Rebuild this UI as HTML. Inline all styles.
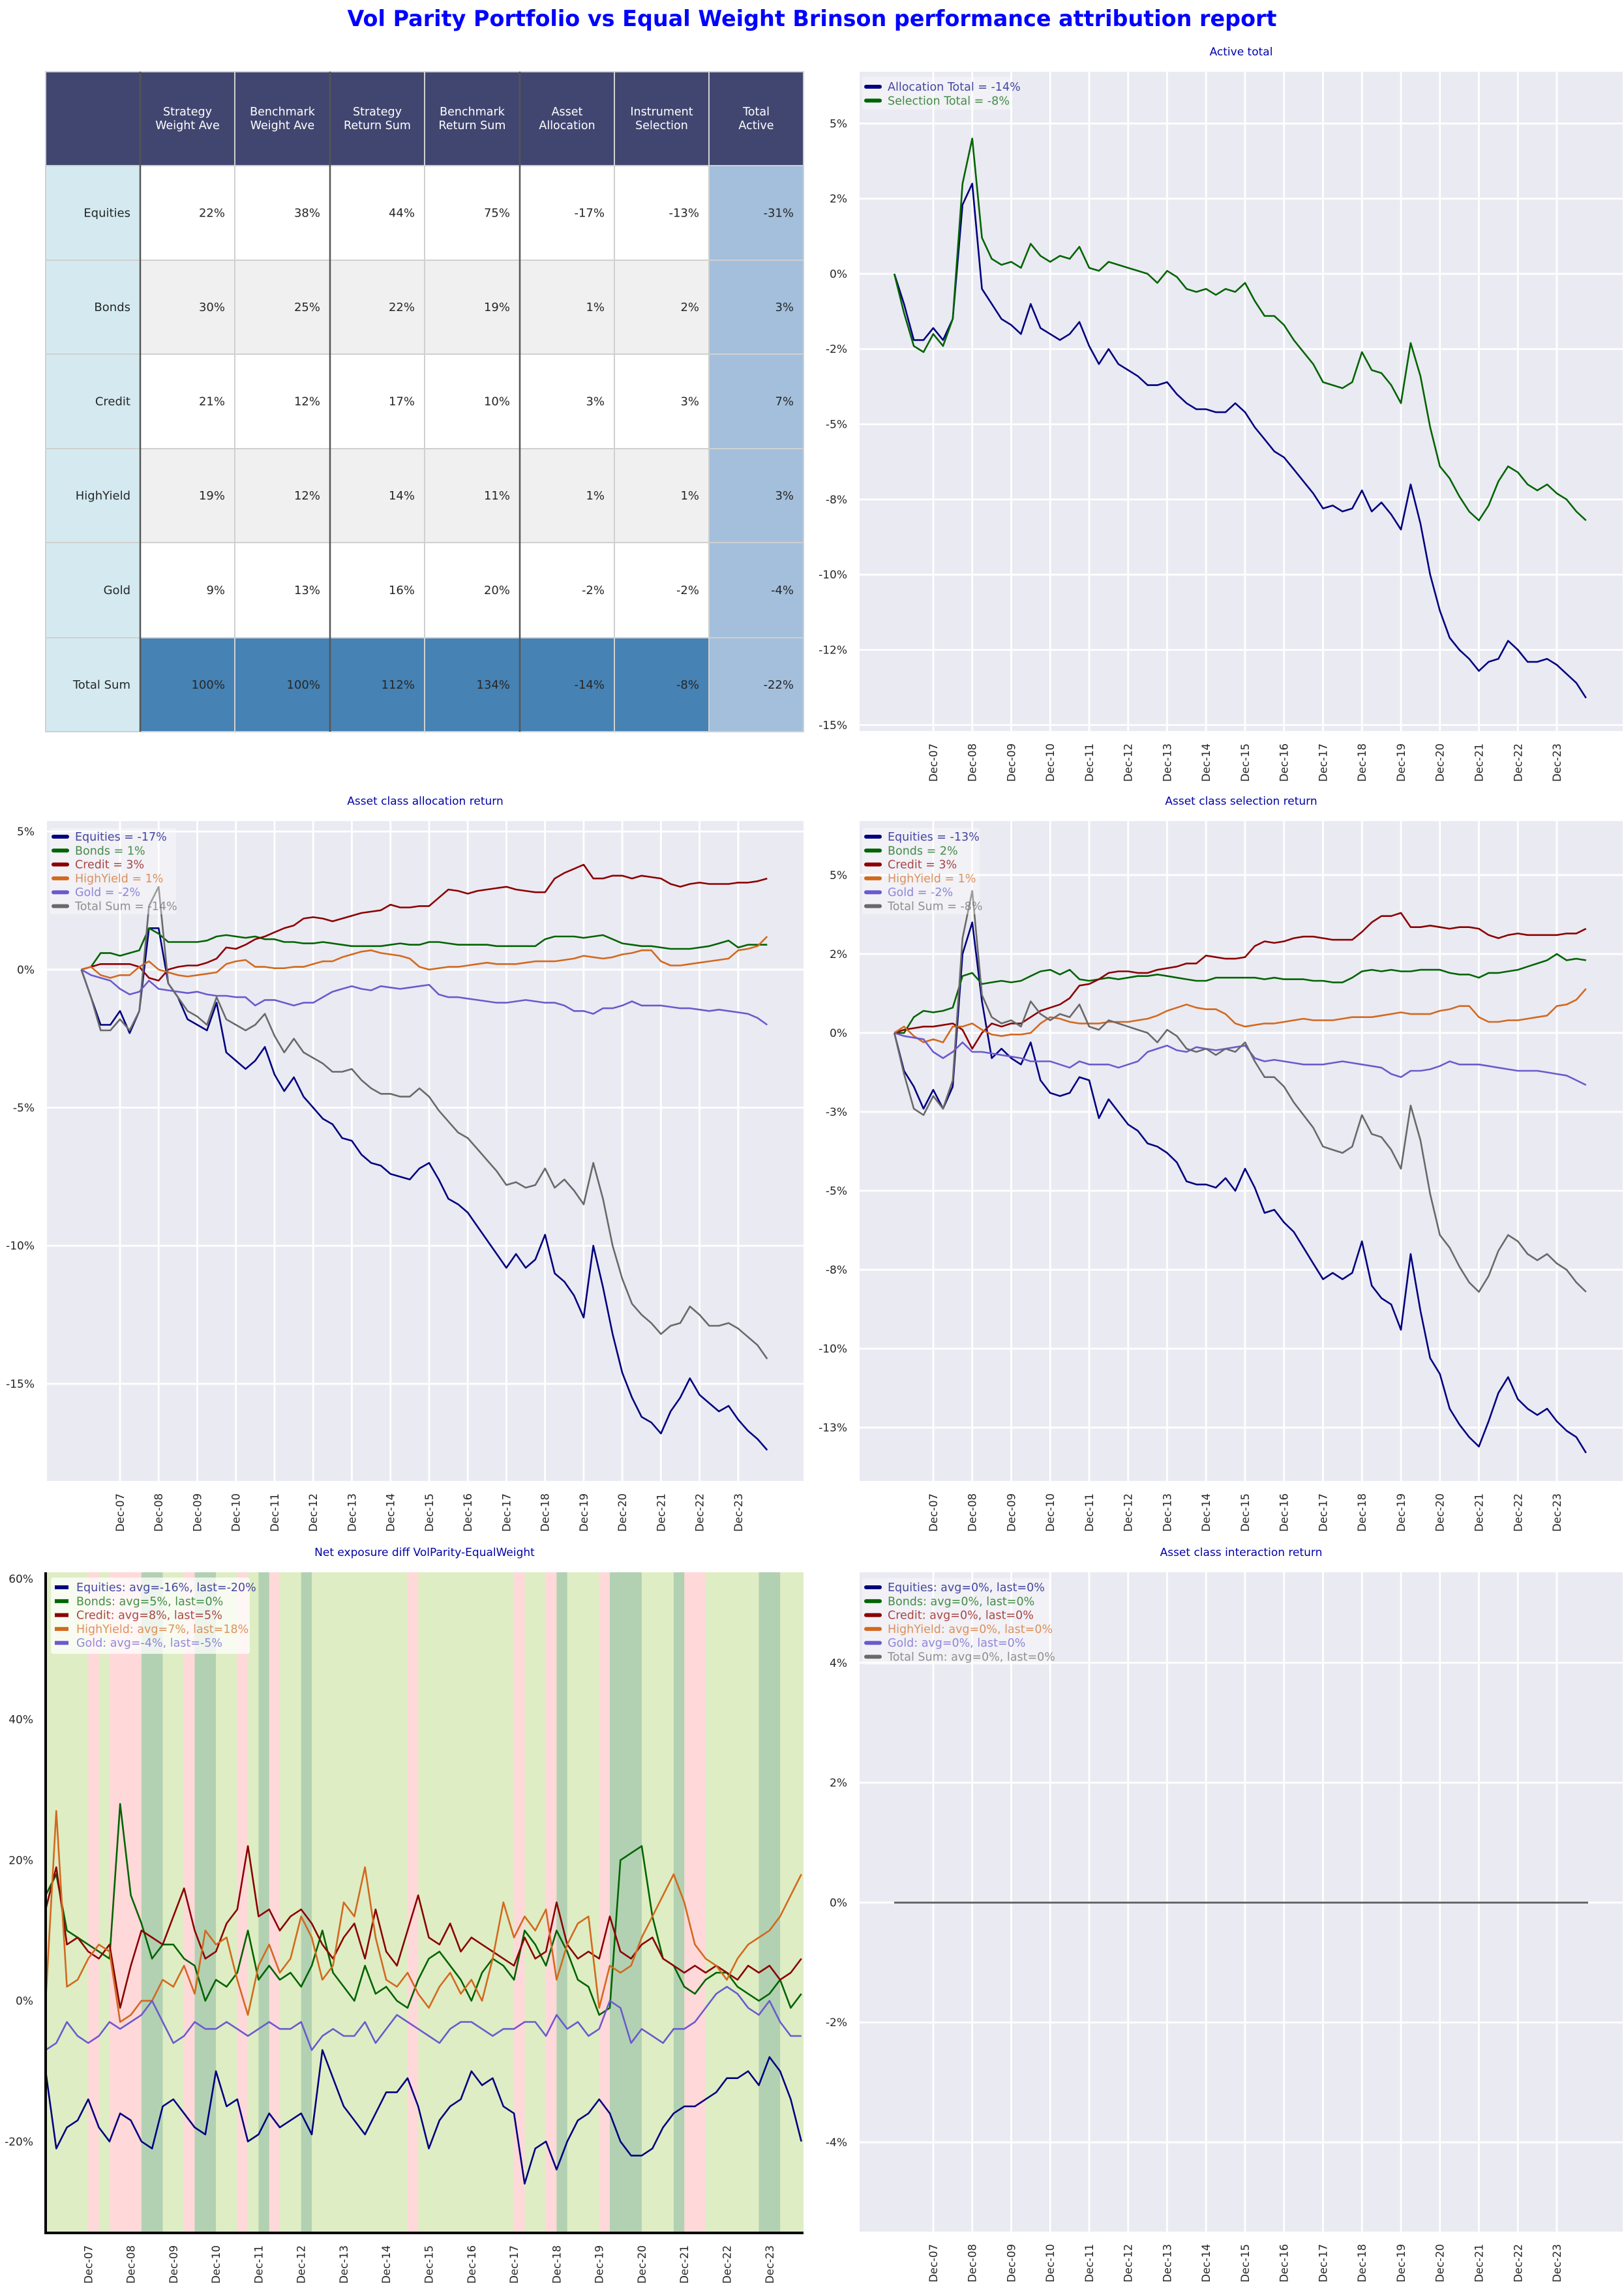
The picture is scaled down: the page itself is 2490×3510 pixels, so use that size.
<!DOCTYPE html>
<html><head><meta charset="utf-8"><title>Brinson attribution report</title>
<style>
html,body{margin:0;padding:0;background:#fff;}
svg{display:block;font-family:"DejaVu Sans","Liberation Sans",sans-serif;}
</style></head>
<body>
<svg id="root" width="2490" height="3510" viewBox="0 0 2490 3510" xmlns="http://www.w3.org/2000/svg">
<text x="1245" y="40" text-anchor="middle" font-size="34" font-weight="bold" fill="#0000ff" textLength="1425" lengthAdjust="spacingAndGlyphs">Vol Parity Portfolio vs Equal Weight Brinson performance attribution report</text>
<g id="tbl"></g>
<g id="c1"></g>
<g id="c2"></g>
<g id="c3"></g>
<g id="c4"></g>
<g id="c5"></g>
</svg>
<script>
// ---------- table data ----------
const tableHeaders = [["",""],["Strategy","Weight Ave"],["Benchmark","Weight Ave"],["Strategy","Return Sum"],["Benchmark","Return Sum"],["Asset","Allocation"],["Instrument","Selection"],["Total","Active"]];
const tableRows = ["Equities","Bonds","Credit","HighYield","Gold","Total Sum"];
const tableValues = [
 ["22%","38%","44%","75%","-17%","-13%","-31%"],
 ["30%","25%","22%","19%","1%","2%","3%"],
 ["21%","12%","17%","10%","3%","3%","7%"],
 ["19%","12%","14%","11%","1%","1%","3%"],
 ["9%","13%","16%","20%","-2%","-2%","-4%"],
 ["100%","100%","112%","134%","-14%","-8%","-22%"]
];
// ---------- time axis (years since Dec-06) ----------
const times = [0,0.25,0.5,0.75,1,1.25,1.5,1.75, 2,2.25,2.5,2.75,3,3.25,3.5,3.75, 4,4.25,4.5,4.75,5,5.25,5.5,5.75, 6,6.25,6.5,6.75,7,7.25,7.5,7.75, 8,8.25,8.5,8.75,9,9.25,9.5,9.75, 10,10.25,10.5,10.75,11,11.25,11.5,11.75, 12,12.25,12.5,12.75,13,13.25,13.5,13.75, 14,14.25,14.5,14.75,15,15.25,15.5,15.75, 16,16.25,16.5,16.75,17,17.25,17.5,17.75];
const xTickPos = [1,2,3,4,5,6,7,8,9,10,11,12,13,14,15,16,17];
const xTickLabels = ["Dec-07","Dec-08","Dec-09","Dec-10","Dec-11","Dec-12","Dec-13","Dec-14","Dec-15","Dec-16","Dec-17","Dec-18","Dec-19","Dec-20","Dec-21","Dec-22","Dec-23"];
// ---------- allocation series (%) ----------
const allocEquities = [0,-1,-2,-2,-1.5,-2.3,-1.5,1.5, 1.5,-0.5,-1,-1.8,-2,-2.2,-1.2,-3, -3.3,-3.6,-3.3,-2.8,-3.8,-4.4,-3.9,-4.6, -5,-5.4,-5.6,-6.1,-6.2,-6.7,-7,-7.1, -7.4,-7.5,-7.6,-7.2,-7,-7.6,-8.3,-8.5, -8.8,-9.3,-9.8,-10.3,-10.8,-10.3,-10.8,-10.5, -9.6,-11,-11.3,-11.8,-12.6,-10,-11.5,-13.2, -14.6,-15.5,-16.2,-16.4,-16.8,-16,-15.5,-14.8, -15.4,-15.7,-16,-15.8,-16.3,-16.7,-17,-17.4];
const allocBonds = [0,0.1,0.6,0.6,0.5,0.6,0.7,1.5, 1.3,1,1,1,1,1.05,1.2,1.25, 1.2,1.15,1.2,1.1,1.1,1,1,0.95, 0.95,1,0.95,0.9,0.85,0.85,0.85,0.85, 0.9,0.95,0.9,0.9,1,1,0.95,0.9, 0.9,0.9,0.9,0.85,0.85,0.85,0.85,0.85, 1.1,1.2,1.2,1.2,1.15,1.2,1.25,1.1, 0.95,0.9,0.85,0.85,0.8,0.75,0.75,0.75, 0.8,0.85,0.95,1.05,0.8,0.9,0.9,0.9];
const allocCredit = [0,0.1,0.2,0.2,0.2,0.2,0.1,-0.3, -0.4,0,0.1,0.15,0.15,0.25,0.4,0.8, 0.75,0.9,1.1,1.2,1.35,1.5,1.6,1.85, 1.9,1.85,1.75,1.85,1.95,2.05,2.1,2.15, 2.35,2.25,2.25,2.3,2.3,2.6,2.9,2.85, 2.75,2.85,2.9,2.95,3,2.9,2.85,2.8, 2.8,3.3,3.5,3.65,3.8,3.3,3.3,3.4, 3.4,3.3,3.4,3.35,3.3,3.1,3,3.1, 3.15,3.1,3.1,3.1,3.15,3.15,3.2,3.3];
const allocHighYield = [0,0.1,-0.2,-0.3,-0.2,-0.2,0.1,0.3, 0,-0.1,-0.2,-0.25,-0.2,-0.15,-0.1,0.2, 0.3,0.35,0.1,0.1,0.05,0.05,0.1,0.1, 0.2,0.3,0.3,0.45,0.55,0.65,0.7,0.6, 0.55,0.5,0.4,0.1,0,0.05,0.1,0.1, 0.15,0.2,0.25,0.2,0.2,0.2,0.25,0.3, 0.3,0.3,0.35,0.4,0.5,0.45,0.4,0.45, 0.55,0.6,0.7,0.7,0.3,0.15,0.15,0.2, 0.25,0.3,0.35,0.4,0.7,0.75,0.85,1.2];
const allocGold = [0,-0.2,-0.3,-0.4,-0.7,-0.9,-0.8,-0.4, -0.7,-0.75,-0.8,-0.85,-0.8,-0.9,-0.95,-0.95, -1,-1,-1.3,-1.1,-1.1,-1.2,-1.3,-1.2, -1.2,-1,-0.8,-0.7,-0.6,-0.7,-0.75,-0.6, -0.65,-0.7,-0.65,-0.6,-0.55,-0.9,-1,-1, -1.05,-1.1,-1.15,-1.2,-1.2,-1.15,-1.1,-1.15, -1.2,-1.2,-1.3,-1.5,-1.5,-1.6,-1.4,-1.4, -1.3,-1.15,-1.3,-1.3,-1.3,-1.35,-1.4,-1.4, -1.45,-1.5,-1.45,-1.5,-1.55,-1.6,-1.75,-2];
const allocTotal = [0,-1,-2.2,-2.2,-1.8,-2.2,-1.5,2.3, 3,-0.5,-1,-1.5,-1.7,-2,-1,-1.8, -2,-2.2,-2,-1.6,-2.4,-3,-2.5,-3, -3.2,-3.4,-3.7,-3.7,-3.6,-4,-4.3,-4.5, -4.5,-4.6,-4.6,-4.3,-4.6,-5.1,-5.5,-5.9, -6.1,-6.5,-6.9,-7.3,-7.8,-7.7,-7.9,-7.8, -7.2,-7.9,-7.6,-8,-8.5,-7,-8.3,-10, -11.2,-12.1,-12.5,-12.8,-13.2,-12.9,-12.8,-12.2, -12.5,-12.9,-12.9,-12.8,-13,-13.3,-13.6,-14.1];
// ---------- selection series (%) ----------
const selEquities = [0,-1.2,-1.7,-2.4,-1.8,-2.4,-1.7,2.5, 3.5,1,-0.8,-0.5,-0.8,-1,-0.3,-1.5, -1.9,-2,-1.9,-1.4,-1.5,-2.7,-2.1,-2.5, -2.9,-3.1,-3.5,-3.6,-3.8,-4.1,-4.7,-4.8, -4.8,-4.9,-4.6,-5,-4.3,-4.9,-5.7,-5.6, -6,-6.3,-6.8,-7.3,-7.8,-7.6,-7.8,-7.6, -6.6,-8,-8.4,-8.6,-9.4,-7,-8.8,-10.3, -10.8,-11.9,-12.4,-12.8,-13.1,-12.3,-11.4,-10.9, -11.6,-11.9,-12.1,-11.9,-12.3,-12.6,-12.8,-13.3];
const selBonds = [0,0,0.5,0.7,0.65,0.7,0.8,1.8, 1.9,1.55,1.6,1.65,1.6,1.65,1.8,1.95, 2,1.85,2,1.7,1.65,1.7,1.75,1.7, 1.75,1.8,1.8,1.85,1.8,1.75,1.7,1.65, 1.65,1.75,1.75,1.75,1.75,1.75,1.7,1.75, 1.7,1.7,1.7,1.65,1.65,1.6,1.6,1.75, 1.95,2,1.95,2,1.95,1.95,2,2, 2,1.9,1.85,1.85,1.75,1.9,1.9,1.95, 2,2.1,2.2,2.3,2.5,2.3,2.35,2.3];
const selCredit = [0,0.1,0.15,0.2,0.2,0.25,0.3,0.1, -0.5,0,0.3,0.2,0.3,0.3,0.5,0.7, 0.8,0.9,1.1,1.5,1.55,1.7,1.9,1.95, 1.95,1.9,1.9,2,2.05,2.1,2.2,2.2, 2.45,2.4,2.35,2.35,2.4,2.75,2.9,2.85, 2.9,3,3.05,3.05,3,2.95,2.95,2.95, 3.2,3.5,3.7,3.7,3.8,3.35,3.35,3.4, 3.35,3.3,3.35,3.35,3.3,3.1,3,3.1, 3.15,3.1,3.1,3.1,3.1,3.15,3.15,3.3];
const selHighYield = [0,0.2,-0.1,-0.3,-0.2,-0.3,0.2,0.2, 0.3,0.1,-0.05,-0.1,-0.05,-0.05,0,0.3, 0.5,0.45,0.35,0.3,0.3,0.3,0.35,0.35, 0.35,0.4,0.45,0.55,0.7,0.8,0.9,0.8, 0.75,0.75,0.6,0.3,0.2,0.25,0.3,0.3, 0.35,0.4,0.45,0.4,0.4,0.4,0.45,0.5, 0.5,0.5,0.55,0.6,0.65,0.6,0.6,0.6, 0.7,0.75,0.85,0.85,0.5,0.35,0.35,0.4, 0.4,0.45,0.5,0.55,0.85,0.9,1.05,1.4];
const selGold = [0,-0.1,-0.15,-0.2,-0.6,-0.8,-0.6,-0.3, -0.6,-0.6,-0.65,-0.7,-0.75,-0.8,-0.9,-0.9, -0.9,-1,-1.1,-0.9,-1,-1,-1,-1.1, -1,-0.9,-0.6,-0.5,-0.4,-0.55,-0.6,-0.45, -0.5,-0.55,-0.5,-0.45,-0.4,-0.8,-0.9,-0.85, -0.9,-0.95,-1,-1,-1,-0.95,-0.9,-0.95, -1,-1.05,-1.1,-1.3,-1.4,-1.2,-1.2,-1.15, -1.05,-0.9,-1,-1,-1,-1.05,-1.1,-1.15, -1.2,-1.2,-1.2,-1.25,-1.3,-1.35,-1.5,-1.65];
const selTotal = [0,-1.3,-2.4,-2.6,-2,-2.4,-1.5,3, 4.5,1.2,0.5,0.3,0.4,0.2,1,0.6, 0.4,0.6,0.5,0.9,0.2,0.1,0.4,0.3, 0.2,0.1,0,-0.3,0.1,-0.1,-0.5,-0.6, -0.5,-0.7,-0.5,-0.6,-0.3,-0.9,-1.4,-1.4, -1.7,-2.2,-2.6,-3,-3.6,-3.7,-3.8,-3.6, -2.6,-3.2,-3.3,-3.7,-4.3,-2.3,-3.4,-5.1, -6.4,-6.8,-7.4,-7.9,-8.2,-7.7,-6.9,-6.4, -6.6,-7,-7.2,-7,-7.3,-7.5,-7.9,-8.2];
// ---------- net exposure series (%) ----------
const expEquities = [-10,-21,-18,-17,-14,-18,-20,-16, -17,-20,-21,-15,-14,-16,-18,-19, -10,-15,-14,-20,-19,-16,-18,-17, -16,-19,-7,-11,-15,-17,-19,-16, -13,-13,-11,-15,-21,-17,-15,-14, -10,-12,-11,-15,-16,-26,-21,-20, -24,-20,-17,-16,-14,-16,-20,-22, -22,-21,-18,-16,-15,-15,-14,-13, -11,-11,-10,-12,-8,-10,-14,-20];
const expBonds = [15,18,10,9,8,7,6,28, 15,11,6,8,8,6,5,0, 3,2,4,10,3,5,3,4, 2,5,10,4,2,0,5,1, 2,0,-1,3,6,7,5,3, 0,4,6,5,3,10,8,5, 10,7,3,2,-2,-1,20,21, 22,12,6,5,2,1,3,4, 4,2,1,0,1,3,-1,1];
const expCredit = [13,19,8,9,7,6,8,-1, 5,10,9,8,12,16,10,6, 7,11,13,22,12,13,10,12, 13,11,8,6,9,11,6,13, 7,5,10,15,9,8,11,7, 9,8,7,6,5,9,6,7, 14,8,6,7,6,12,7,6, 8,9,6,5,4,5,4,5, 4,3,5,4,5,3,4,6];
const expHighYield = [0,27,2,3,6,8,7,-3, -2,0,0,3,2,5,1,10, 8,9,3,-2,5,8,4,6, 12,9,3,5,14,12,19,9, 3,2,4,1,-1,2,4,1, 3,0,6,14,9,12,10,13, 3,8,11,12,-1,5,4,5, 9,12,15,18,14,8,6,5, 3,6,8,9,10,12,15,18];
const expGold = [-7,-6,-3,-5,-6,-5,-3,-4, -3,-2,0,-3,-6,-5,-3,-4, -4,-3,-4,-5,-4,-3,-4,-4, -3,-7,-5,-4,-5,-5,-3,-6, -4,-2,-3,-4,-5,-6,-4,-3, -3,-4,-5,-4,-4,-3,-3,-5, -2,-4,-3,-5,-4,0,-1,-6, -4,-5,-6,-4,-4,-3,-1,1, 2,1,-1,-2,0,-3,-5,-5];
const regimeStart = [1,1.5,3.25,4.5,5.25,8.5,11,11.75,13,15, 2.25,3.5,5,6,12,13.25,14.75,16.75];
const regimeEnd   = [1.25,2.25,3.5,4.75,5.5,8.75,11.25,12,13.25,15.5, 2.75,4,5.25,6.25,12.25,14,15,17.25];
const regimeType  = ["neg","neg","neg","neg","neg","neg","neg","neg","neg","neg","pos","pos","pos","pos","pos","pos","pos","pos"];
// ---------- interaction series (%) ----------
const interTimes = [0,17.8];
const interValues = [0,0];

const NS = "http://www.w3.org/2000/svg";
function el(tag, attrs, parent){ const e=document.createElementNS(NS,tag); for(const k in attrs) e.setAttribute(k,attrs[k]); if(parent) parent.appendChild(e); return e; }

// ---------- table ----------
(function(){
  const g=document.getElementById('tbl');
  const cx=[70,215,360,506,651,797,942,1087,1232];
  const ry=[110,254,399,543,688,832,978,1122];
  for(let c=0;c<8;c++){
    const r=el('rect',{x:cx[c],y:ry[0],width:cx[c+1]-cx[c],height:ry[1]-ry[0],fill:'#414670',stroke:'#d0d0d0','stroke-width':2},g);
    
    
    const t1=el('text',{x:(cx[c]+cx[c+1])/2,y:177,'text-anchor':'middle','font-size':17.5,fill:'#fff'},g); t1.textContent=tableHeaders[c][0];
    
    
    const t2=el('text',{x:(cx[c]+cx[c+1])/2,y:198,'text-anchor':'middle','font-size':17.5,fill:'#fff'},g); t2.textContent=tableHeaders[c][1];
    
    
  }
  for(let r=0;r<6;r++){
    const y0=ry[r+1], y1=ry[r+2], mid=(y0+y1)/2+6;
    const lab=el('rect',{x:cx[0],y:y0,width:cx[1]-cx[0],height:y1-y0,fill:'#d4eaf0',stroke:'#d0d0d0','stroke-width':2},g);
    
    
    const lt=el('text',{x:cx[1]-15,y:mid,'text-anchor':'end','font-size':18,fill:'#262626'},g); lt.textContent=tableRows[r];
    
    
    for(let c=1;c<8;c++){
      let fill = (r%2===1)?'#f0f0f0':'#ffffff';
      if(r===5) fill='#4682b4';
      if(c===7) fill='#a3bfdb';
      const cell=el('rect',{x:cx[c],y:y0,width:cx[c+1]-cx[c],height:y1-y0,fill:fill,stroke:'#d0d0d0','stroke-width':2},g);
      
      
      const vt=el('text',{x:cx[c+1]-15,y:mid,'text-anchor':'end','font-size':18,fill:'#262626'},g); vt.textContent=tableValues[r][c-1];
      
      
    }
  }
  [215,506,797].forEach(x=>{ const l=el('line',{x1:x,x2:x,y1:110,y2:1122,stroke:'#555','stroke-width':2.5},g);
    
     });
})();

// ---------- chart helper ----------
function chart(gid, o){
  const g=document.getElementById(gid);
  const sx=t=>o.x0+(t-o.xmin)/(o.xmax-o.xmin)*(o.x1-o.x0);
  const sy=v=>o.y0+(o.ymax-v)/(o.ymax-o.ymin)*(o.y1-o.y0);
  const bg=el('rect',{x:o.x0,y:o.y0,width:o.x1-o.x0,height:o.y1-o.y0,fill:o.bg||'#eaeaf2'},g);
  
  
  if(o.bands){
    for(let i=0;i<o.bands.s.length;i++){
      const b=el('rect',{x:sx(o.bands.s[i]),y:o.y0,width:sx(o.bands.e[i])-sx(o.bands.s[i]),height:o.y1-o.y0,fill:o.bands.t[i]==='neg'?'#ffd9d9':'#b2d1b2'},g);
      
      
    }
  }
  if(o.grid){
    xTickPos.forEach(t=>{ const l=el('line',{x1:sx(t),x2:sx(t),y1:o.y0,y2:o.y1,stroke:'#fff','stroke-width':2.8},g);
      
       });
    o.yticks.forEach(v=>{ const l=el('line',{x1:o.x0,x2:o.x1,y1:sy(v),y2:sy(v),stroke:'#fff','stroke-width':2.8},g);
      
       });
  }
  o.yticks.forEach((v,i)=>{ const t=el('text',{x:o.x0-19,y:sy(v)+6,'text-anchor':'end','font-size':17,fill:'#262626'},g); t.textContent=o.ylabels[i];
    
     });
  xTickPos.forEach((t,i)=>{ const x=sx(t), y=o.y1+19;
    const tx=el('text',{x:x+6,y:y,'text-anchor':'end','font-size':16.5,fill:'#262626',transform:'rotate(-90 '+(x+6)+' '+y+')'},g); tx.textContent=xTickLabels[i];
    
     });
  o.series.forEach(s=>{
    const ts=s.t||times;
    const pts=s.v.map((v,i)=>sx(ts[i]).toFixed(1)+','+sy(v).toFixed(1)).join(' ');
    const p=el('polyline',{points:pts,fill:'none',stroke:s.c,'stroke-width':2.6,'stroke-linejoin':'round'},g);
    
    
  });
  if(o.spines){
    const sp=el('path',{d:'M'+o.x0+' '+o.y0+' V'+o.y1+' H'+o.x1,fill:'none',stroke:'#000','stroke-width':4},g);
    
    
  }
  const tt=el('text',{x:(o.x0+o.x1)/2,y:o.ty,'text-anchor':'middle','font-size':17,fill:'#0000a8'},g); tt.textContent=o.title;
  
  
  // legend
  const L=o.legend;
  const lb=el('rect',{x:L.x,y:L.y,width:L.w,height:L.h,rx:4,fill:'#ffffff','fill-opacity':L.a},g);
  
  
  L.items.forEach((it,i)=>{ const y=L.r0+i*21.3;
    const h=el('line',{x1:L.x+6,x2:L.x+27,y1:y,y2:y,stroke:it[1],'stroke-width':6,'stroke-linecap':L.round?'round':'butt'},g);
    
    
    const t=el('text',{x:L.x+39,y:y+6,'font-size':17.5,fill:it[1],'fill-opacity':0.72},g); t.textContent=it[0];
    
     });
}
const C={eq:'#000080',bo:'#006400',cr:'#8b0000',hy:'#d2691e',go:'#6a5acd',tot:'#696969'};

chart('c1',{x0:1318,x1:2488,y0:110,y1:1121,xmin:-0.89,xmax:18.69,ymin:-15.2,ymax:6.72,grid:true,
  yticks:[5,2.5,0,-2.5,-5,-7.5,-10,-12.5,-15],ylabels:["5%","2%","0%","-2%","-5%","-8%","-10%","-12%","-15%"],
  title:'Active total',ty:85,
  series:[{n:'allocation-total-line',v:allocTotal,c:C.eq},{n:'selection-total-line',v:selTotal,c:C.bo}],
  legend:{x:1322,y:118,w:230,h:50,a:0.35,r0:133,round:true,items:[["Allocation Total = -14%",C.eq],["Selection Total = -8%",C.bo]]}});

chart('c2',{x0:72,x1:1232,y0:1259,y1:2271,xmin:-0.89,xmax:18.69,ymin:-18.52,ymax:5.38,grid:true,
  yticks:[5,0,-5,-10,-15],ylabels:["5%","0%","-5%","-10%","-15%"],
  title:'Asset class allocation return',ty:1234,
  series:[{n:'equities-line',v:allocEquities,c:C.eq},{n:'bonds-line',v:allocBonds,c:C.bo},{n:'credit-line',v:allocCredit,c:C.cr},{n:'highyield-line',v:allocHighYield,c:C.hy},{n:'gold-line',v:allocGold,c:C.go},{n:'total-sum-line',v:allocTotal,c:C.tot}],
  legend:{x:76,y:1270,w:194,h:132,a:0.35,r0:1283,round:true,items:[["Equities = -17%",C.eq],["Bonds = 1%",C.bo],["Credit = 3%",C.cr],["HighYield = 1%",C.hy],["Gold = -2%",C.go],["Total Sum = -14%",C.tot]]}});

chart('c3',{x0:1318,x1:2488,y0:1259,y1:2271,xmin:-0.89,xmax:18.69,ymin:-14.19,ymax:6.71,grid:true,
  yticks:[5,2.5,0,-2.5,-5,-7.5,-10,-12.5],ylabels:["5%","2%","0%","-3%","-5%","-8%","-10%","-13%"],
  title:'Asset class selection return',ty:1234,
  series:[{n:'equities-line',v:selEquities,c:C.eq},{n:'bonds-line',v:selBonds,c:C.bo},{n:'credit-line',v:selCredit,c:C.cr},{n:'highyield-line',v:selHighYield,c:C.hy},{n:'gold-line',v:selGold,c:C.go},{n:'total-sum-line',v:selTotal,c:C.tot}],
  legend:{x:1322,y:1270,w:180,h:132,a:0.35,r0:1283,round:true,items:[["Equities = -13%",C.eq],["Bonds = 2%",C.bo],["Credit = 3%",C.cr],["HighYield = 1%",C.hy],["Gold = -2%",C.go],["Total Sum = -8%",C.tot]]}});

chart('c4',{x0:70,x1:1232,y0:2411,y1:3424,xmin:0,xmax:17.8,ymin:-33,ymax:60.93,grid:false,spines:true,bg:'#dfedc4',
  bands:{s:regimeStart,e:regimeEnd,t:regimeType},
  yticks:[60,40,20,0,-20],ylabels:["60%","40%","20%","0%","-20%"],
  title:'Net exposure diff VolParity-EqualWeight',ty:2386,
  series:[{n:'equities-exposure-line',v:expEquities,c:C.eq},{n:'bonds-exposure-line',v:expBonds,c:C.bo},{n:'credit-exposure-line',v:expCredit,c:C.cr},{n:'highyield-exposure-line',v:expHighYield,c:C.hy},{n:'gold-exposure-line',v:expGold,c:C.go}],
  legend:{x:78,y:2419,w:305,h:117,a:0.75,r0:2434,round:false,items:[["Equities: avg=-16%, last=-20%",C.eq],["Bonds: avg=5%, last=0%",C.bo],["Credit: avg=8%, last=5%",C.cr],["HighYield: avg=7%, last=18%",C.hy],["Gold: avg=-4%, last=-5%",C.go]]}});

chart('c5',{x0:1318,x1:2488,y0:2411,y1:3422,xmin:-0.89,xmax:18.69,ymin:-5.49,ymax:5.51,grid:true,
  yticks:[4,2,0,-2,-4],ylabels:["4%","2%","0%","-2%","-4%"],
  title:'Asset class interaction return',ty:2386,
  series:[{n:'equities-interaction-line',t:interTimes,v:interValues,c:C.eq},{n:'bonds-interaction-line',t:interTimes,v:interValues,c:C.bo},{n:'credit-interaction-line',t:interTimes,v:interValues,c:C.cr},{n:'highyield-interaction-line',t:interTimes,v:interValues,c:C.hy},{n:'gold-interaction-line',t:interTimes,v:interValues,c:C.go},{n:'total-interaction-line',t:interTimes,v:interValues,c:C.tot}],
  legend:{x:1322,y:2420,w:290,h:133,a:0.35,r0:2434,round:true,items:[["Equities: avg=0%, last=0%",C.eq],["Bonds: avg=0%, last=0%",C.bo],["Credit: avg=0%, last=0%",C.cr],["HighYield: avg=0%, last=0%",C.hy],["Gold: avg=0%, last=0%",C.go],["Total Sum: avg=0%, last=0%",C.tot]]}});
</script>
</body></html>
